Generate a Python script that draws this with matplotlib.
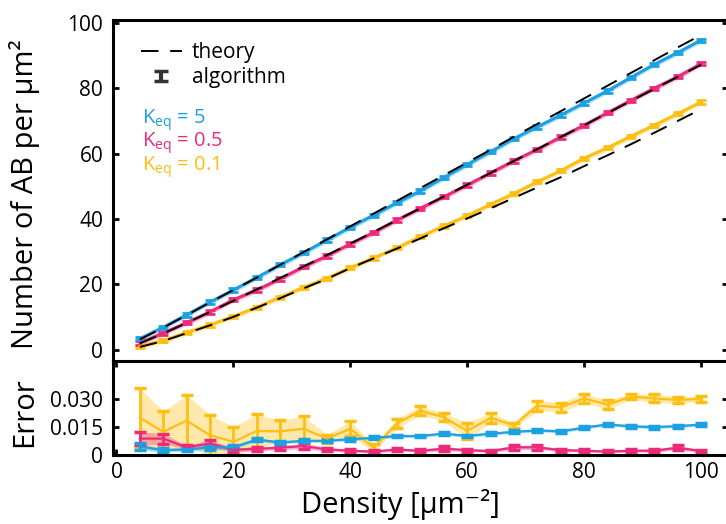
import numpy as np
import matplotlib
matplotlib.use('Agg')
import matplotlib.pyplot as plt
from matplotlib.lines import Line2D
from matplotlib.legend_handler import HandlerErrorbar

plt.rcParams['font.family'] = ['Open Sans', 'DejaVu Sans']

# densities (um^-2)
density = [4, 8, 12, 16, 20, 24, 28, 32, 36, 40, 44, 48, 52,
           56, 60, 64, 68, 72, 76, 80, 84, 88, 92, 96, 100]

# number of AB per um^2, algorithm
ab_k5 = [3.4, 6.9, 10.7, 14.6, 18.3, 22.1, 26.0, 29.7, 33.6, 37.5, 41.2, 45.0, 48.6,
         52.7, 56.7, 60.6, 64.6, 68.2, 71.8, 75.5, 79.2, 83.3, 87.3, 90.9, 94.7]
ab_k05 = [2.1, 5.1, 8.3, 11.6, 15.3, 18.3, 21.7, 25.4, 28.7, 32.4, 35.9, 39.7, 43.3,
          46.8, 50.4, 54.1, 57.8, 61.3, 65.1, 68.7, 72.5, 76.3, 80.0, 83.5, 87.5]
ab_k01 = [1.0, 2.8, 5.3, 7.6, 10.2, 13.0, 16.1, 19.1, 21.9, 25.1, 28.1, 31.2, 34.6,
          37.9, 41.0, 44.5, 47.8, 51.4, 54.8, 58.6, 61.8, 65.3, 68.7, 72.2, 75.8]

# theory curves
th_k5 = [3.2, 6.8, 10.6, 14.5, 18.3, 22.1, 26.0, 29.9, 33.8, 37.8, 41.7, 45.6, 49.5,
         53.4, 57.3, 61.2, 65.2, 69.1, 73.0, 76.9, 80.8, 84.7, 88.6, 92.5, 96.3]
th_k05 = [2.0, 5.0, 8.2, 11.6, 15.0, 18.5, 22.0, 25.5, 29.0, 32.5, 36.1, 39.7, 43.3,
          46.9, 50.5, 54.1, 57.8, 61.4, 65.1, 68.7, 72.4, 76.1, 79.8, 83.5, 87.2]
th_k01 = [0.9, 2.7, 5.1, 7.5, 10.1, 12.9, 15.8, 18.8, 21.7, 25.0, 28.0, 31.0, 34.1,
          37.2, 40.2, 43.3, 46.5, 49.7, 52.8, 56.2, 59.5, 62.9, 66.4, 70.0, 73.6]

# relative error
err_k5 = [0.0045, 0.0026, 0.0030, 0.0041, 0.0041, 0.0083, 0.0067, 0.0076, 0.0076, 0.0085, 0.0092, 0.0102, 0.0102,
          0.0115, 0.0102, 0.0115, 0.0124, 0.0132, 0.0127, 0.0147, 0.0164, 0.0154, 0.0150, 0.0155, 0.0163]
err_k05 = [0.0088, 0.0088, 0.0041, 0.0062, 0.0028, 0.0033, 0.0039, 0.0048, 0.0030, 0.0023, 0.0018, 0.0030, 0.0022,
           0.0034, 0.0026, 0.0021, 0.0041, 0.0041, 0.0026, 0.0023, 0.0018, 0.0023, 0.0023, 0.0039, 0.0021]
err_k01 = [0.0200, 0.0124, 0.0185, 0.0106, 0.0071, 0.0129, 0.0127, 0.0141, 0.0088, 0.0141, 0.0038, 0.0170, 0.0238,
           0.0203, 0.0129, 0.0200, 0.0159, 0.0265, 0.0256, 0.0304, 0.0270, 0.0314, 0.0304, 0.0295, 0.0302]

# spread of the error
sd_k5 = [0.0018, 0.0010, 0.0010, 0.0015, 0.0010, 0.0010, 0.0008, 0.0008, 0.0008, 0.0008, 0.0008, 0.0008, 0.0008,
         0.0008, 0.0008, 0.0008, 0.0008, 0.0008, 0.0008, 0.0008, 0.0008, 0.0008, 0.0008, 0.0008, 0.0008]
sd_k05 = [0.0036, 0.0027, 0.0010, 0.0021, 0.0010, 0.0012, 0.0012, 0.0015, 0.0010, 0.0008, 0.0008, 0.0008, 0.0008,
          0.0012, 0.0008, 0.0008, 0.0012, 0.0012, 0.0008, 0.0008, 0.0008, 0.0008, 0.0008, 0.0012, 0.0008]
sd_k01 = [0.0159, 0.0110, 0.0137, 0.0110, 0.0080, 0.0090, 0.0060, 0.0067, 0.0022, 0.0040, 0.0020, 0.0026, 0.0025,
          0.0022, 0.0045, 0.0026, 0.0015, 0.0027, 0.0025, 0.0025, 0.0025, 0.0015, 0.0022, 0.0018, 0.0015]

blue = '#1ba1e2'
pink = '#ec2a7c'
yellow = '#fdbf12'
labels = ['K$_{\\mathregular{eq}}$ = 5', 'K$_{\\mathregular{eq}}$ = 0.5', 'K$_{\\mathregular{eq}}$ = 0.1']

fig = plt.figure(figsize=(7.26, 5.24), dpi=100)
ax1 = fig.add_axes([0.1556, 0.3111, 0.8471, 0.6508])
ax2 = fig.add_axes([0.1556, 0.1317, 0.8471, 0.1794])
x = np.array(density)

#Top panel: number of AB
for ab, th, c in [(ab_k01, th_k01, yellow), (ab_k05, th_k05, pink), (ab_k5, th_k5, blue)]:
    ab = np.array(ab)
    ax1.fill_between(x, ab - 0.8, ab + 0.8, color=c, alpha=0.3, lw=0)
    ax1.errorbar(x, ab, yerr=0.5, color=c, lw=2.2, elinewidth=2, capsize=3.5, capthick=2)
for th in [th_k01, th_k05, th_k5]:
    ax1.plot(x, th, color='k', ls=(0, (9, 6)), lw=1.4, zorder=5)

ax1.set_xlim(-0.6, 104.6)
ax1.set_ylim(-3.4, 100.9)
ax1.set_yticks([0, 20, 40, 60, 80, 100])
ax1.tick_params(direction='in', length=4, width=2, labelsize=15, pad=7,
                left=True, right=True, bottom=False, top=False, labelbottom=False)

# legend
h_theory = Line2D([], [], color='k', ls=(0, (9, 6)), lw=1.4)
h_algo = ax1.errorbar([np.nan], [np.nan], yerr=[1], fmt='none', ecolor='#333333',
                      elinewidth=3, capsize=5, capthick=2.5)
ax1.legend([h_theory, h_algo], ['theory', 'algorithm'], loc='upper left',
           bbox_to_anchor=(0.045, 0.935), frameon=False, fontsize=15,
           handlelength=2.0, handletextpad=0.45, labelspacing=0.2, borderpad=0, borderaxespad=0,
           handler_map={type(h_algo): HandlerErrorbar(yerr_size=0.22)})

for i, (lab, c) in enumerate(zip(labels, [blue, pink, yellow])):
    ax1.text(0.048, 0.706 - i * 0.0685, lab, color=c, fontsize=14.5, va='center',
             transform=ax1.transAxes)

#Bottom panel: error
for m, s, c in [(err_k01, sd_k01, yellow), (err_k05, sd_k05, pink), (err_k5, sd_k5, blue)]:
    m = np.array(m)
    s = np.array(s)
    ax2.fill_between(x, m - s, m + s, color=c, alpha=0.35, lw=0)
    ax2.errorbar(x, m, yerr=s, color=c, lw=1.6, elinewidth=2, capsize=4, capthick=2.5)

ax2.set_xlim(-0.6, 104.6)
ax2.set_ylim(0, 0.0505)
ax2.set_xticks([0, 20, 40, 60, 80, 100])
ax2.set_yticks([0, 0.015, 0.03])
ax2.set_yticklabels(['0', '0.015', '0.030'])
ax2.tick_params(direction='in', length=4, width=2, labelsize=15, pad=7,
                left=True, right=True, bottom=True, top=True)
ax2.tick_params(axis='x', pad=5)

for ax in [ax1, ax2]:
    for sp in ax.spines.values():
        sp.set_linewidth(2.2)

fig.text(25 / 726, 1 - 194 / 524, 'Number of AB per µm²', rotation=90, fontsize=21,
         ha='center', va='center')
fig.text(25 / 726, 1 - 412 / 524, 'Error', rotation=90, fontsize=21, ha='center', va='center')
fig.text(400 / 726, 1 - 505 / 524, 'Density [µm⁻²]', fontsize=21,
         ha='center', va='center')

plt.savefig('out.png', dpi=100)
